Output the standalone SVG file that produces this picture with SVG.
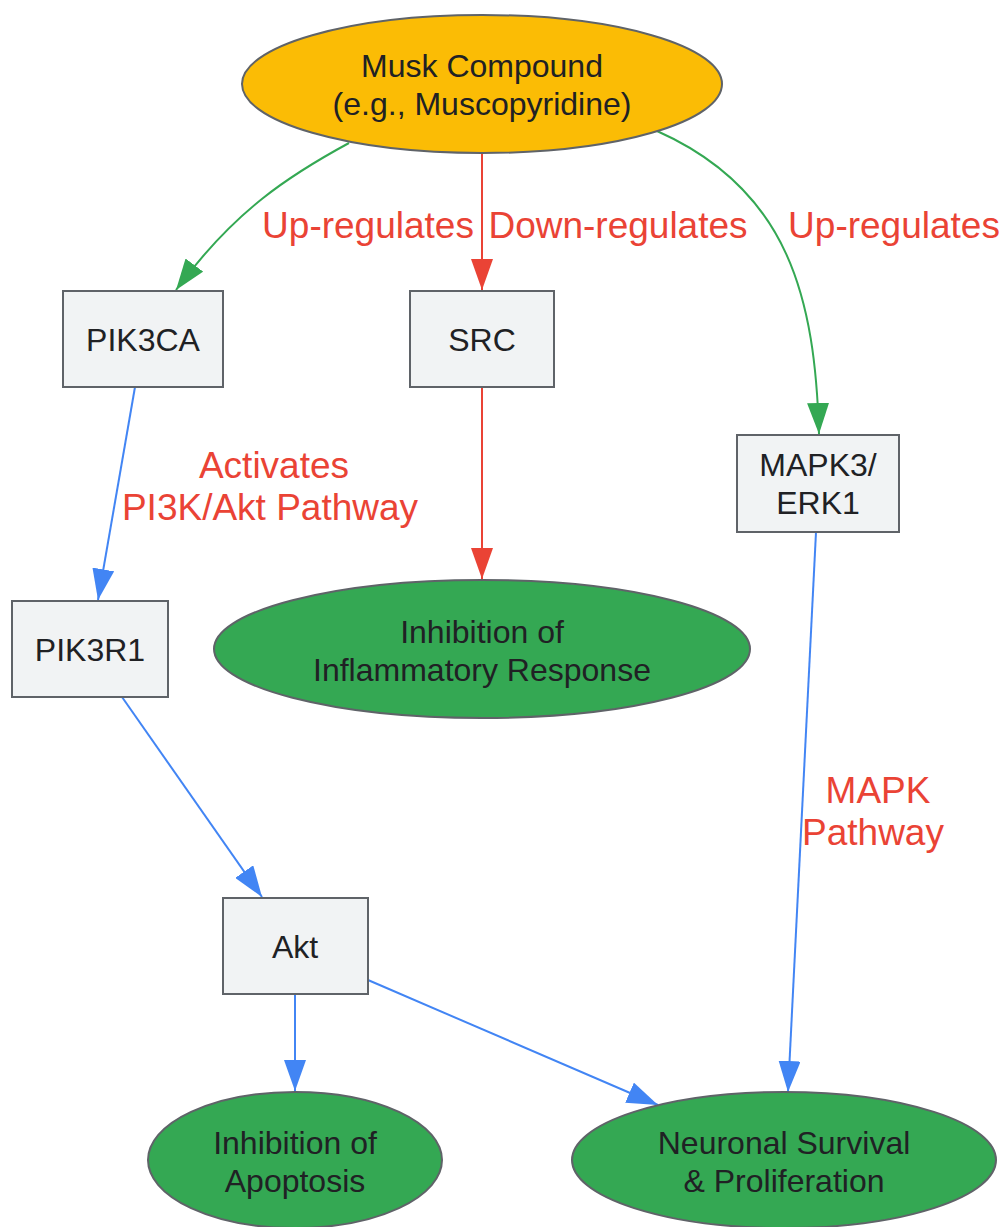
<svg xmlns="http://www.w3.org/2000/svg" width="1004" height="1227" viewBox="0 0 1004 1227">
<style>
.node text{font-family:"Liberation Sans",Arial,sans-serif;font-size:32px;fill:#202124;text-anchor:middle}
.box{fill:#F1F3F4;stroke:#5F6368;stroke-width:2}
.ell{stroke:#5F6368;stroke-width:2}
.lbl{font-family:"Liberation Sans",Arial,sans-serif;font-size:37px;fill:#EA4335;text-anchor:middle}
.e{fill:none;stroke-width:2}
.g{stroke:#34A853}.r{stroke:#EA4335}.b{stroke:#4285F4}
</style>
<defs>
<marker id="ag" viewBox="0 0 10 10" refX="10" refY="5" markerWidth="31" markerHeight="22" markerUnits="userSpaceOnUse" orient="auto" preserveAspectRatio="none"><path d="M0,0L10,5L0,10z" fill="#34A853"/></marker>
<marker id="ar" viewBox="0 0 10 10" refX="10" refY="5" markerWidth="31" markerHeight="22" markerUnits="userSpaceOnUse" orient="auto" preserveAspectRatio="none"><path d="M0,0L10,5L0,10z" fill="#EA4335"/></marker>
<marker id="ab" viewBox="0 0 10 10" refX="10" refY="5" markerWidth="31" markerHeight="22" markerUnits="userSpaceOnUse" orient="auto" preserveAspectRatio="none"><path d="M0,0L10,5L0,10z" fill="#4285F4"/></marker>
</defs>
<rect width="1004" height="1227" fill="#fff"/>
<g id="connectors">
<path class="e g" d="M349,143 C290,175 235,210 176,290" marker-end="url(#ag)"/>
<path class="e r" d="M482,153 L482,290" marker-end="url(#ar)"/>
<path class="e g" d="M657,131 C790,190 815,300 819,434" marker-end="url(#ag)"/>
<path class="e b" d="M135,387 L98,600" marker-end="url(#ab)"/>
<path class="e r" d="M482,387 L482,579" marker-end="url(#ar)"/>
<path class="e b" d="M122,697 L262,897" marker-end="url(#ab)"/>
<path class="e b" d="M816,532 L788,1092" marker-end="url(#ab)"/>
<path class="e b" d="M295,994 L295,1091" marker-end="url(#ab)"/>
<path class="e b" d="M368,980 L658,1105" marker-end="url(#ab)"/>
<text class="lbl" x="368" y="238">Up-regulates</text>
<text class="lbl" x="618" y="238">Down-regulates</text>
<text class="lbl" x="894" y="238">Up-regulates</text>
<text class="lbl" x="274" y="478">Activates</text>
<text class="lbl" x="270" y="520">PI3K/Akt Pathway</text>
<text class="lbl" x="878" y="803">MAPK</text>
<text class="lbl" x="873" y="845">Pathway</text>
</g>
<g id="musk" class="node"><ellipse class="ell" cx="482" cy="84" rx="240" ry="69" fill="#FBBC05"/><text x="482" y="77">Musk Compound</text><text x="482" y="115">(e.g., Muscopyridine)</text></g>
<g id="pik3ca" class="node"><rect class="box" x="63" y="291" width="160" height="96"/><text x="143" y="351">PIK3CA</text></g>
<g id="src" class="node"><rect class="box" x="410" y="291" width="144" height="96"/><text x="482" y="351">SRC</text></g>
<g id="mapk3" class="node"><rect class="box" x="737" y="435" width="162" height="97"/><text x="818" y="476">MAPK3/</text><text x="818" y="514">ERK1</text></g>
<g id="pik3r1" class="node"><rect class="box" x="12" y="601" width="156" height="96"/><text x="90" y="661">PIK3R1</text></g>
<g id="inflam" class="node"><ellipse class="ell" cx="482" cy="649" rx="268" ry="69" fill="#34A853"/><text x="482" y="643">Inhibition of</text><text x="482" y="681">Inflammatory Response</text></g>
<g id="akt" class="node"><rect class="box" x="223" y="898" width="145" height="96"/><text x="295" y="958">Akt</text></g>
<g id="apop" class="node"><ellipse class="ell" cx="295" cy="1160" rx="147" ry="68" fill="#34A853"/><text x="295" y="1154">Inhibition of</text><text x="295" y="1192">Apoptosis</text></g>
<g id="neuro" class="node"><ellipse class="ell" cx="784" cy="1160" rx="212" ry="68" fill="#34A853"/><text x="784" y="1154">Neuronal Survival</text><text x="784" y="1192">&amp; Proliferation</text></g>
</svg>
